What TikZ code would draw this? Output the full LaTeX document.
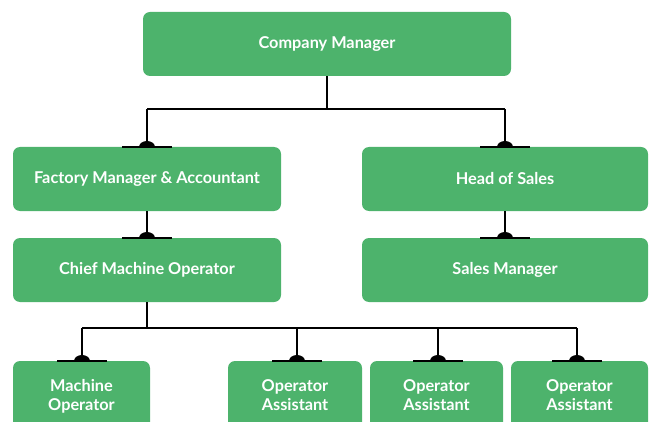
\documentclass[tikz,border=0pt]{standalone}
\usepackage{fontspec}
\setmainfont{Lato}
\definecolor{boxgreen}{HTML}{4DB36C}
\begin{document}
\begin{tikzpicture}[x=1pt,y=-1pt,
  box/.style={fill=boxgreen, draw=none, rounded corners=7pt, text=white, font=\bfseries\fontsize{16.3}{19.5}\selectfont, align=center, inner sep=0pt},
  conn/.style={line width=2.4pt, black},
  bar/.style={line width=2.6pt, black}]
\useasboundingbox (0,0) rectangle (650,422);
\begin{scope}
\clip (0,0) rectangle (650,422);
\node[box, minimum width=368pt, minimum height=64pt] (cm) at (327,44) {Company Manager};
\node[box, minimum width=268pt, minimum height=64pt] (fm) at (147,179) {Factory Manager \& Accountant};
\node[box, minimum width=286pt, minimum height=64pt] (hs) at (505,179) {Head of Sales};
\node[box, minimum width=268pt, minimum height=64pt] (cmo) at (147,270) {Chief Machine Operator};
\node[box, minimum width=286pt, minimum height=64pt] (sm) at (505,270) {Sales Manager};
\node[box, minimum width=137pt, minimum height=68pt, text depth=0pt] (mo) at (81.5,395) {Machine\\Operator};
\node[box, minimum width=134pt, minimum height=68pt] (oa1) at (295,395) {Operator\\Assistant};
\node[box, minimum width=133pt, minimum height=68pt] (oa2) at (436.5,395) {Operator\\Assistant};
\node[box, minimum width=137pt, minimum height=68pt] (oa3) at (579.5,395) {Operator\\Assistant};
\end{scope}
% junction coordinates
\coordinate (j1) at (327,109);
\coordinate (j1l) at (147,109);
\coordinate (j1r) at (505,109);
\coordinate (j2) at (147,328);
\coordinate (j2a) at (82,328);
\coordinate (j2b) at (297,328);
\coordinate (j2c) at (438,328);
\coordinate (j2d) at (577,328);
\coordinate (t1) at (147,147);
\coordinate (t2) at (505,147);
\coordinate (t3) at (147,238);
\coordinate (t4) at (505,238);
\coordinate (t5) at (82,361);
\coordinate (t6) at (297,361);
\coordinate (t7) at (438,361);
\coordinate (t8) at (577,361);
\draw[conn] (cm.south) -- (j1);
\draw[conn] (j1l) -- (j1r);
\draw[conn] (j1l) -- (t1);
\draw[conn] (j1r) -- (t2);
\draw[conn] (fm.south) -- (t3);
\draw[conn] (hs.south) -- (t4);
\draw[conn] (cmo.south) -- (j2);
\draw[conn] (j2a) -- (j2d);
\draw[conn] (j2a) -- (t5);
\draw[conn] (j2b) -- (t6);
\draw[conn] (j2c) -- (t7);
\draw[conn] (j2d) -- (t8);
\foreach \t in {t1,t2,t3,t4,t5,t6,t7,t8}{
  \draw[bar] ([xshift=-25pt]\t) -- ([xshift=25pt]\t);
  \fill[black] ([xshift=-8pt]\t) arc[x radius=8pt, y radius=6pt, start angle=180, end angle=0] -- cycle;
}
\end{tikzpicture}
\end{document}
